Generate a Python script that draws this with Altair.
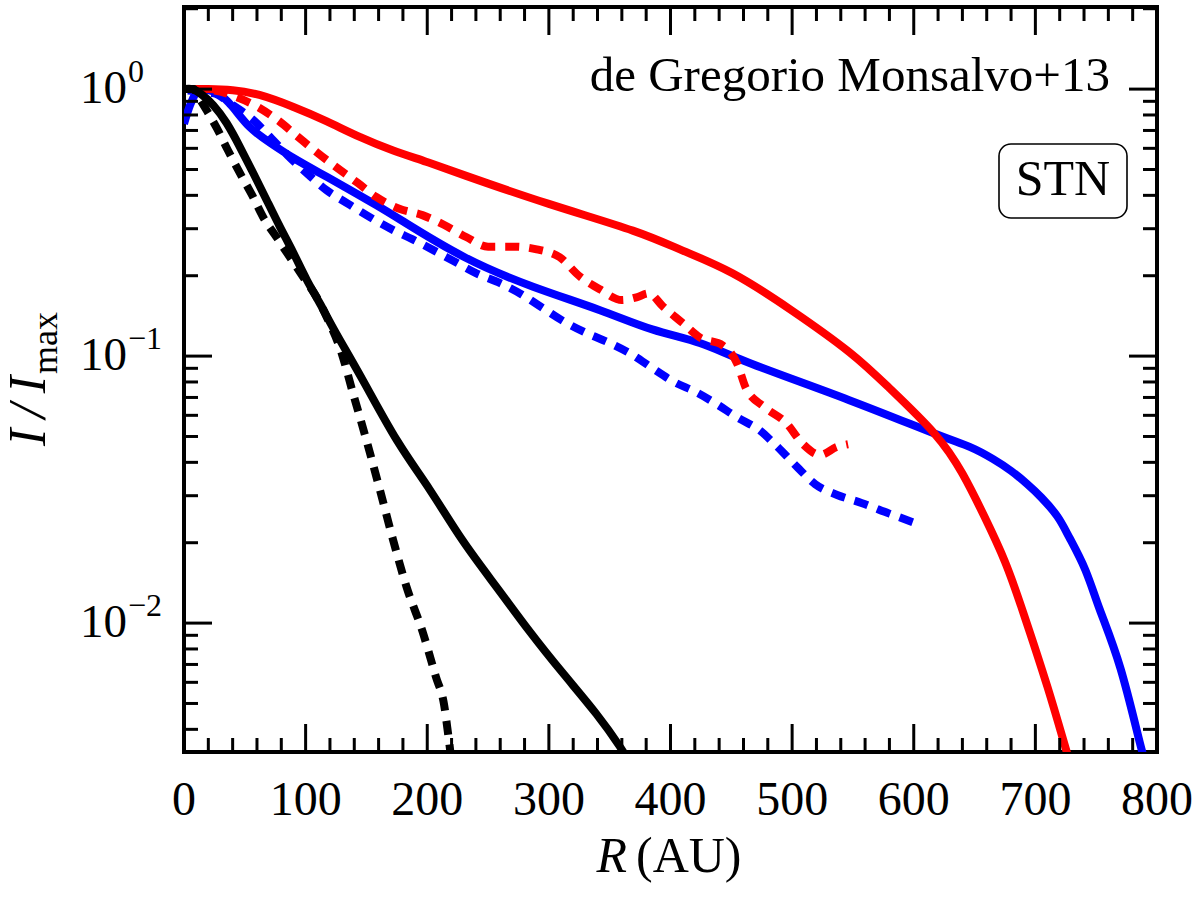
import altair as alt
import numpy as np
import pandas as pd

# ---- data: R (AU) and log10(I/Imax) ----
red_solid_R = [0, 20, 40, 62, 90, 117, 145, 172, 199, 232, 300, 369, 410, 451, 500, 547, 580, 617, 640, 658, 675, 690, 710, 725, 732]
red_solid_logI = [0.0, 0.0, -0.004, -0.022, -0.067, -0.12, -0.18, -0.23, -0.272, -0.325, -0.43, -0.53, -0.605, -0.69, -0.83, -0.985, -1.12, -1.29, -1.44, -1.60, -1.77, -1.96, -2.24, -2.47, -2.57]

red_dot_R = [5, 25, 43, 60, 77, 94, 109, 125, 143, 158, 177, 196, 214, 232, 250, 271, 290, 309, 325, 342, 360, 372, 382, 394, 410, 424, 443, 455, 462, 477, 495, 509, 523, 537, 546]
red_dot_logI = [0.0, -0.005, -0.03, -0.065, -0.116, -0.18, -0.236, -0.292, -0.352, -0.404, -0.448, -0.472, -0.509, -0.554, -0.59, -0.59, -0.60, -0.63, -0.70, -0.75, -0.79, -0.78, -0.765, -0.815, -0.876, -0.93, -0.96, -1.03, -1.12, -1.19, -1.25, -1.33, -1.37, -1.34, -1.33]

blue_solid_R = [0, 5, 10, 14, 27, 40, 54, 71, 90, 112, 134, 158, 180, 230, 287, 342, 385, 424, 465, 547, 617, 646, 665, 680, 693, 705, 718, 728, 741, 753, 770, 786, 792]
blue_solid_logI = [-0.13, -0.06, -0.01, 0.0, -0.015, -0.067, -0.142, -0.202, -0.258, -0.315, -0.371, -0.434, -0.495, -0.628, -0.74, -0.828, -0.90, -0.951, -1.026, -1.165, -1.29, -1.34, -1.385, -1.43, -1.478, -1.53, -1.60, -1.68, -1.80, -1.95, -2.17, -2.45, -2.54]

blue_dot_R = [3, 24, 40, 57, 71, 85, 101, 117, 134, 150, 172, 188, 205, 222, 240, 260, 278, 295, 313, 331, 350, 369, 385, 403, 421, 438, 455, 473, 488, 504, 519, 537, 557, 580, 601]
blue_dot_logI = [-0.005, -0.015, -0.06, -0.116, -0.18, -0.247, -0.315, -0.378, -0.427, -0.472, -0.528, -0.563, -0.603, -0.645, -0.689, -0.727, -0.77, -0.82, -0.872, -0.914, -0.951, -0.996, -1.045, -1.097, -1.135, -1.18, -1.23, -1.277, -1.34, -1.415, -1.48, -1.52, -1.55, -1.59, -1.625]

black_solid_R = [0, 7, 15, 24, 35, 46, 57, 68, 79, 90, 101, 112, 125, 147, 175, 202, 229, 257, 284, 312, 339, 358, 366]
black_solid_logI = [0.0, 0.0, -0.022, -0.06, -0.127, -0.217, -0.315, -0.416, -0.517, -0.614, -0.715, -0.805, -0.914, -1.09, -1.315, -1.50, -1.69, -1.865, -2.03, -2.19, -2.34, -2.46, -2.52]

black_dot_R = [0, 8, 12, 20, 27, 36, 46, 56, 65, 76, 87, 98, 109, 118, 129, 139, 150, 161, 172, 183, 196, 207, 214, 217, 220]
black_dot_logI = [0.0, 0.0, -0.03, -0.09, -0.146, -0.228, -0.315, -0.397, -0.479, -0.554, -0.629, -0.704, -0.779, -0.86, -0.98, -1.14, -1.315, -1.50, -1.69, -1.865, -2.03, -2.20, -2.31, -2.41, -2.52]

# ---- ticks and labels ----
x_major = [0, 100, 200, 300, 400, 500, 600, 700, 800]
x_labels = ["0", "100", "200", "300", "400", "500", "600", "700", "800"]
x_minor = [20, 40, 60, 80, 120, 140, 160, 180, 220, 240, 260, 280, 320, 340, 360, 380,
           420, 440, 460, 480, 520, 540, 560, 580, 620, 640, 660, 680, 720, 740, 760, 780]
y_major = [1.0, 0.1, 0.01]
y_label_base = ["10", "10", "10"]
y_label_exp = ["0", "\u22121", "\u22122"]
y_minor = [0.004, 0.005, 0.006, 0.007, 0.008, 0.009,
           0.02, 0.03, 0.04, 0.05, 0.06, 0.07, 0.08, 0.09,
           0.2, 0.3, 0.4, 0.5, 0.6, 0.7, 0.8, 0.9, 2.0]

W, H = 973, 745
FONT = "Liberation Serif"
xs = alt.Scale(domain=[0, 800], nice=False, zero=False)
ys = alt.Scale(type="log", domain=[0.00329, 2.03], nice=False)


def series_df(R, logI):
    return pd.DataFrame({"R": R, "I": 10 ** np.array(logI, dtype=float)})


def line(R, logI, color, dashed):
    kw = dict(color=color, strokeWidth=8, clip=True, strokeCap="butt")
    if dashed:
        kw["strokeDash"] = [14, 10]
        kw["interpolate"] = "monotone"
    else:
        kw["strokeJoin"] = "round"
        kw["interpolate"] = "natural"
    return alt.Chart(series_df(R, logI)).mark_line(**kw).encode(
        x=alt.X("R:Q", scale=xs, axis=None),
        y=alt.Y("I:Q", scale=ys, axis=None),
    )


layers = [
    line(blue_solid_R, blue_solid_logI, "#0000ff", False),
    line(blue_dot_R, blue_dot_logI, "#0000ff", True),
    line(red_solid_R, red_solid_logI, "#ff0000", False),
    line(red_dot_R, red_dot_logI, "#ff0000", True),
    line(black_solid_R, black_solid_logI, "#000000", False),
    line(black_dot_R, black_dot_logI, "#000000", True),
]


def xtick_layers(vals, length):
    df = pd.DataFrame({"R": vals})
    base = alt.Chart(df).mark_rule(color="black", strokeWidth=3)
    xenc = alt.X("R:Q", scale=xs, axis=None)
    return [
        base.encode(x=xenc, y=alt.value(H), y2=alt.value(H - length)),
        base.encode(x=xenc, y=alt.value(0), y2=alt.value(length)),
    ]


def ytick_layers(vals, length):
    df = pd.DataFrame({"I": vals})
    base = alt.Chart(df).mark_rule(color="black", strokeWidth=3)
    yenc = alt.Y("I:Q", scale=ys, axis=None)
    return [
        base.encode(y=yenc, x=alt.value(0), x2=alt.value(length)),
        base.encode(y=yenc, x=alt.value(W), x2=alt.value(W - length)),
    ]


layers += xtick_layers(x_major, 28) + xtick_layers(x_minor, 14)
layers += ytick_layers(y_major, 28) + ytick_layers(y_minor, 14)

# x tick labels
xl = pd.DataFrame({"R": x_major, "lab": x_labels})
layers.append(
    alt.Chart(xl).mark_text(font=FONT, fontSize=48, align="center", baseline="alphabetic").encode(
        x=alt.X("R:Q", scale=xs, axis=None), y=alt.value(808), text="lab:N")
)

# y tick labels (10 with superscript exponent)
yl = pd.DataFrame({"I": y_major, "base": y_label_base, "exp": y_label_exp})
layers.append(
    alt.Chart(yl).mark_text(font=FONT, fontSize=47, align="right", baseline="alphabetic", dy=14).encode(
        y=alt.Y("I:Q", scale=ys, axis=None), x=alt.value(-57), text="base:N")
)
layers.append(
    alt.Chart(yl).mark_text(font=FONT, fontSize=32, align="left", baseline="alphabetic", dy=-7).encode(
        y=alt.Y("I:Q", scale=ys, axis=None), x=alt.value(-56), text="exp:N")
)


def label(text, x, y, size, align="left", style="normal", angle=0):
    kw = dict(font=FONT, fontSize=size, align=align, baseline="alphabetic",
              fontStyle=style, color="black")
    if angle:
        kw["angle"] = angle
    return alt.Chart(alt.Data(values=[{}])).mark_text(**kw).encode(
        x=alt.value(x), y=alt.value(y), text=alt.value(text))


# axis titles
layers.append(label("R", 443, 865, 50, align="right", style="italic"))
layers.append(label("(AU)", 452, 865, 50, align="left"))
layers.append(label("I\u2009/\u2009I", -139, 369, 52, align="right", style="italic", angle=270))
layers.append(label("max", -127, 367, 36, align="left", angle=270))

# annotations
layers.append(label("de Gregorio Monsalvo+13", 926, 84, 49, align="right"))
layers.append(
    alt.Chart(alt.Data(values=[{}])).mark_rect(
        fill="white", stroke="black", strokeWidth=1.6, cornerRadius=12).encode(
        x=alt.value(815), x2=alt.value(943), y=alt.value(137), y2=alt.value(211))
)
layers.append(label("STN", 879, 188, 50, align="center"))

chart = alt.layer(*layers).properties(
    width=W, height=H,
    padding={"left": 184, "top": 7, "right": 43, "bottom": 148},
    autosize=alt.AutoSizeParams(type="none"),
    background="white",
).configure_view(stroke="black", strokeWidth=4)

chart.save("out.html", embed_options={"renderer": "svg", "actions": False})
